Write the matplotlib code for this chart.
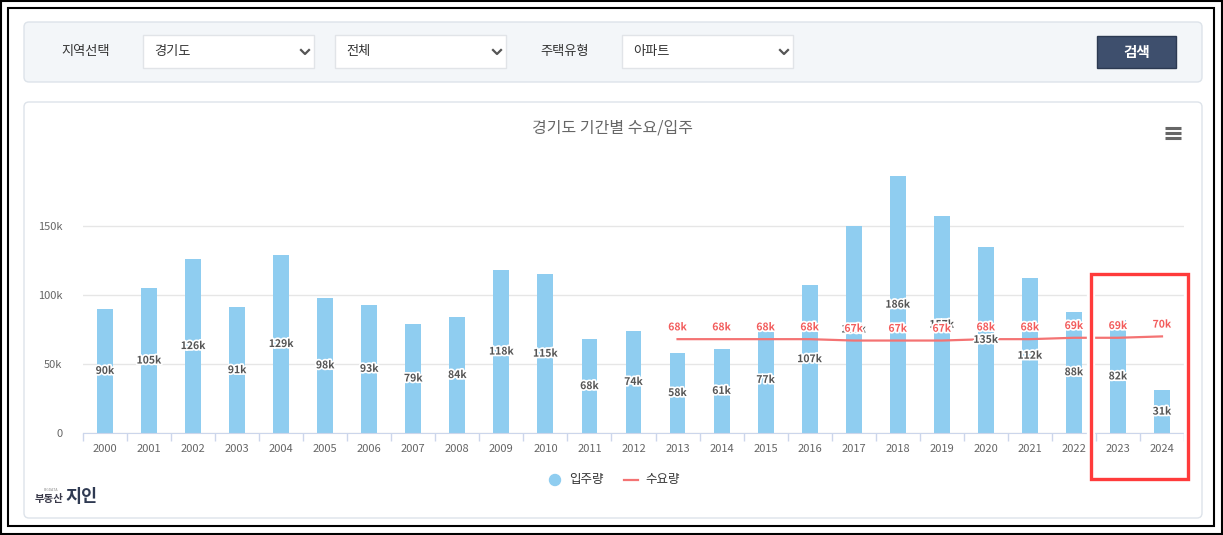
import numpy as np
import matplotlib
matplotlib.use("Agg")
import matplotlib.pyplot as plt
import matplotlib.patheffects as pe
from matplotlib.patches import FancyBboxPatch, Rectangle, Circle

plt.rcParams['font.family'] = ['Noto Sans CJK KR', 'DejaVu Sans']

# data (thousands of units)
years = [str(y) for y in range(2000, 2025)]
supply = [90, 105, 126, 91, 129, 98, 93, 79, 84, 118, 115, 68, 74,
          58, 61, 77, 107, 150, 186, 157, 135, 112, 88, 82, 31]
demand_years = [str(y) for y in range(2013, 2025)]
demand = [68, 68, 68, 68, 67, 67, 67, 68, 68, 69, 69, 70]

W, H = 1223, 535
BAR = '#8fcdf0'
LINE = '#f47373'
LBL_RED = '#f25c5c'

fig = plt.figure(figsize=(W / 100, H / 100), dpi=100)

# background layer in pixel coords (y down)
bg = fig.add_axes([0, 0, 1, 1])
bg.set_xlim(0, W)
bg.set_ylim(H, 0)
bg.axis('off')

bg.add_patch(Rectangle((1, 1), W - 2, H - 2, fill=False, ec='black', lw=1.5))
bg.add_patch(Rectangle((8, 8), 1206, 518, fill=False, ec='black', lw=1.5))

# filter panel
bg.add_patch(FancyBboxPatch((24, 22), 1178, 60, boxstyle='round,pad=0,rounding_size=5',
                            fc='#f3f6f9', ec='#dde3ea', lw=1))
bg.text(86, 52, '지역선택', fontsize=9.5, color='#333', ha='center', va='center')
bg.text(565, 52, '주택유형', fontsize=9.5, color='#333', ha='center', va='center')
for x0, txt in [(143, '경기도'), (335, '전체'), (622, '아파트')]:
    bg.add_patch(Rectangle((x0, 35), 171, 33, fc='white', ec='#e1e4e8', lw=1))
    bg.text(x0 + 11, 52, txt, fontsize=9.5, color='#333', ha='left', va='center')
    cx = x0 + 162
    bg.plot([cx - 4, cx, cx + 4], [50, 54, 50], color='#555', lw=1.6)
bg.add_patch(Rectangle((1097, 36), 79, 32, fc='#3e4f6d', ec='#2c3a52', lw=1))
bg.text(1136.5, 52, '검색', fontsize=10.5, color='white', fontweight='bold',
        ha='center', va='center')

# chart panel
bg.add_patch(FancyBboxPatch((24, 102), 1178, 416, boxstyle='round,pad=0,rounding_size=5',
                            fc='white', ec='#dde3ea', lw=1))
bg.text(613, 128, '경기도 기간별 수요/입주', fontsize=11.5, color='#666',
        ha='center', va='center')
for yy in (128, 133, 138):
    bg.plot([1165, 1181], [yy, yy], color='#666', lw=2.2, solid_capstyle='butt')

# logo
bg.text(51, 490, 'BIGDATA', fontsize=2.5, color='#888', ha='center', va='center')
bg.text(49, 499, '부동산', fontsize=7.5, color='#3a3a4a', fontweight='bold',
        ha='center', va='center')
bg.text(81, 497, '지인', fontsize=12.5, color='#2f3a52', fontweight='bold',
        ha='center', va='center')

# main chart axes
y0, px_per_k = 433, 207 / 150
ymax = 195
top = y0 - ymax * px_per_k
ax = fig.add_axes([83 / W, (H - y0) / H, 1101 / W, (y0 - top) / H])
ax.patch.set_alpha(0)
x = np.arange(len(years))
ax.bar(x, supply, width=0.36, color=BAR, zorder=2)
xd = np.array([years.index(y) for y in demand_years])
ax.plot(xd, demand, color=LINE, lw=1.6, zorder=3)

stroke = [pe.withStroke(linewidth=2.5, foreground='white')]
for xi, v in zip(x, supply):
    ax.text(xi, v / 2, f'{v}k', fontsize=7.5, fontweight='bold', color='#555',
            ha='center', va='center', path_effects=stroke, zorder=4)
for xi, v in zip(xd, demand):
    ax.annotate(f'{v}k', (xi, v), xytext=(0, 8.5), textcoords='offset points',
                fontsize=7.5, fontweight='bold', color=LBL_RED, ha='center',
                va='center', path_effects=stroke, zorder=5)

ax.set_xlim(-0.5, len(years) - 0.5)
ax.set_ylim(0, ymax)
ax.set_yticks([0, 50, 100, 150])
ax.set_yticklabels(['0', '50k', '100k', '150k'])
ax.set_xticks(x)
ax.set_xticklabels(years)
ax.set_xticks(np.arange(-0.5, len(years), 1), minor=True)
ax.tick_params(axis='x', which='major', length=0, labelsize=8, labelcolor='#666', pad=8)
ax.tick_params(axis='x', which='minor', length=6, color='#ccd6eb', width=1)
ax.tick_params(axis='y', length=0, labelsize=8, labelcolor='#666', pad=15)
ax.grid(axis='y', color='#e6e6e6', lw=1, zorder=0)
for s in ('top', 'right', 'left'):
    ax.spines[s].set_visible(False)
ax.spines['bottom'].set_color('#ccd6eb')
ax.set_axisbelow(True)

# overlay: legend and highlight box
ov = fig.add_axes([0, 0, 1, 1], zorder=10)
ov.set_xlim(0, W)
ov.set_ylim(H, 0)
ov.axis('off')
ov.patch.set_alpha(0)
ov.add_patch(Circle((555, 480), 5.5, color=BAR))
ov.text(569, 480, '입주량', fontsize=9, color='#333', ha='left', va='center')
ov.plot([624, 638], [480, 480], color=LINE, lw=1.6)
ov.text(645, 480, '수요량', fontsize=9, color='#333', ha='left', va='center')

ov.add_patch(Rectangle((1091, 274), 97, 205, fill=False, ec='white', lw=6))
ov.add_patch(Rectangle((1091, 274), 97, 205, fill=False, ec='#ff3b3b', lw=2.4))

fig.savefig('out.png', dpi=100)
